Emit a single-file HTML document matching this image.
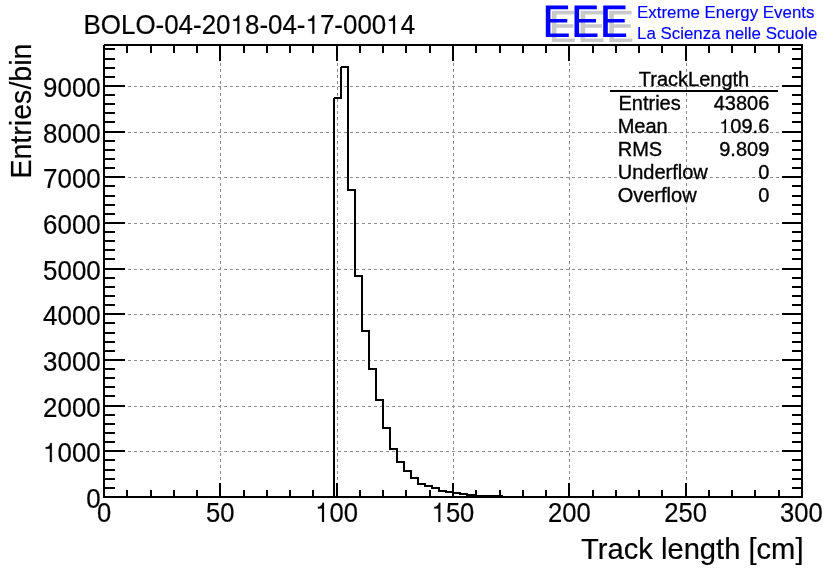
<!DOCTYPE html>
<html><head><meta charset="utf-8"><title>TrackLength</title>
<style>
html,body{margin:0;padding:0;background:#fff;}
body{width:836px;height:572px;overflow:hidden;}
svg{display:block;will-change:transform;}
text{font-family:"Liberation Sans",sans-serif;fill:#000;stroke:#000;}
.b{fill:#0000ff;stroke:#0000ff;stroke-width:0.15px;}
.h{fill:none;stroke:none;}
.one path{fill:#000;stroke:#000;stroke-width:0.2px;}
</style></head><body>
<svg width="836" height="572" viewBox="0 0 836 572">
<rect x="0" y="0" width="836" height="572" fill="#fff"/>
<g shape-rendering="crispEdges" stroke="#8c8c8c" stroke-width="1" stroke-dasharray="3 3" fill="none">
<line x1="104" y1="451.5" x2="801" y2="451.5"/><line x1="104" y1="406.5" x2="801" y2="406.5"/><line x1="104" y1="360.5" x2="801" y2="360.5"/><line x1="104" y1="314.5" x2="801" y2="314.5"/><line x1="104" y1="269.5" x2="801" y2="269.5"/><line x1="104" y1="223.5" x2="801" y2="223.5"/><line x1="104" y1="177.5" x2="801" y2="177.5"/><line x1="104" y1="132.5" x2="801" y2="132.5"/><line x1="104" y1="86.5" x2="801" y2="86.5"/><line x1="220.5" y1="45" x2="220.5" y2="496"/><line x1="337.5" y1="45" x2="337.5" y2="496"/><line x1="453.5" y1="45" x2="453.5" y2="496"/><line x1="569.5" y1="45" x2="569.5" y2="496"/><line x1="686.5" y1="45" x2="686.5" y2="496"/>
</g>
<path d="M334,497 V98 H341 V67 H348 V190 H355 V276 H362 V331 H369 V369 H376 V400 H383 V428 H390 V449 H397 V462 H404 V471 H411 V478 H418 V484 H425 V486 H432 V488 H439 V491 H446 V492 H453 V493 H460 V494 H467 V495 H474 V496 H481 V496 H488 V496 H495 V496 H502 V497 H802" fill="none" stroke="#000" stroke-width="2" stroke-linejoin="miter" shape-rendering="crispEdges"/>
<g shape-rendering="crispEdges" fill="#000">
<rect x="103" y="44" width="700" height="2"/><rect x="103" y="496" width="700" height="2"/><rect x="103" y="44" width="2" height="454"/><rect x="801" y="44" width="2" height="454"/>
<rect x="126" y="490" width="2" height="6"/><rect x="126" y="46" width="2" height="7"/><rect x="150" y="490" width="2" height="6"/><rect x="150" y="46" width="2" height="7"/><rect x="173" y="490" width="2" height="6"/><rect x="173" y="46" width="2" height="7"/><rect x="196" y="490" width="2" height="6"/><rect x="196" y="46" width="2" height="7"/><rect x="219" y="483" width="2" height="13"/><rect x="219" y="46" width="2" height="15"/><rect x="243" y="490" width="2" height="6"/><rect x="243" y="46" width="2" height="7"/><rect x="266" y="490" width="2" height="6"/><rect x="266" y="46" width="2" height="7"/><rect x="289" y="490" width="2" height="6"/><rect x="289" y="46" width="2" height="7"/><rect x="312" y="490" width="2" height="6"/><rect x="312" y="46" width="2" height="7"/><rect x="336" y="483" width="2" height="13"/><rect x="336" y="46" width="2" height="15"/><rect x="359" y="490" width="2" height="6"/><rect x="359" y="46" width="2" height="7"/><rect x="382" y="490" width="2" height="6"/><rect x="382" y="46" width="2" height="7"/><rect x="405" y="490" width="2" height="6"/><rect x="405" y="46" width="2" height="7"/><rect x="429" y="490" width="2" height="6"/><rect x="429" y="46" width="2" height="7"/><rect x="452" y="483" width="2" height="13"/><rect x="452" y="46" width="2" height="15"/><rect x="475" y="490" width="2" height="6"/><rect x="475" y="46" width="2" height="7"/><rect x="499" y="490" width="2" height="6"/><rect x="499" y="46" width="2" height="7"/><rect x="522" y="490" width="2" height="6"/><rect x="522" y="46" width="2" height="7"/><rect x="545" y="490" width="2" height="6"/><rect x="545" y="46" width="2" height="7"/><rect x="568" y="483" width="2" height="13"/><rect x="568" y="46" width="2" height="15"/><rect x="592" y="490" width="2" height="6"/><rect x="592" y="46" width="2" height="7"/><rect x="615" y="490" width="2" height="6"/><rect x="615" y="46" width="2" height="7"/><rect x="638" y="490" width="2" height="6"/><rect x="638" y="46" width="2" height="7"/><rect x="661" y="490" width="2" height="6"/><rect x="661" y="46" width="2" height="7"/><rect x="685" y="483" width="2" height="13"/><rect x="685" y="46" width="2" height="15"/><rect x="708" y="490" width="2" height="6"/><rect x="708" y="46" width="2" height="7"/><rect x="731" y="490" width="2" height="6"/><rect x="731" y="46" width="2" height="7"/><rect x="754" y="490" width="2" height="6"/><rect x="754" y="46" width="2" height="7"/><rect x="778" y="490" width="2" height="6"/><rect x="778" y="46" width="2" height="7"/>
<rect x="105" y="487" width="10" height="2"/><rect x="792" y="487" width="9" height="2"/><rect x="105" y="478" width="10" height="2"/><rect x="792" y="478" width="9" height="2"/><rect x="105" y="469" width="10" height="2"/><rect x="792" y="469" width="9" height="2"/><rect x="105" y="459" width="10" height="2"/><rect x="792" y="459" width="9" height="2"/><rect x="105" y="450" width="20" height="2"/><rect x="782" y="450" width="19" height="2"/><rect x="105" y="441" width="10" height="2"/><rect x="792" y="441" width="9" height="2"/><rect x="105" y="432" width="10" height="2"/><rect x="792" y="432" width="9" height="2"/><rect x="105" y="423" width="10" height="2"/><rect x="792" y="423" width="9" height="2"/><rect x="105" y="414" width="10" height="2"/><rect x="792" y="414" width="9" height="2"/><rect x="105" y="405" width="20" height="2"/><rect x="782" y="405" width="19" height="2"/><rect x="105" y="395" width="10" height="2"/><rect x="792" y="395" width="9" height="2"/><rect x="105" y="386" width="10" height="2"/><rect x="792" y="386" width="9" height="2"/><rect x="105" y="377" width="10" height="2"/><rect x="792" y="377" width="9" height="2"/><rect x="105" y="368" width="10" height="2"/><rect x="792" y="368" width="9" height="2"/><rect x="105" y="359" width="20" height="2"/><rect x="782" y="359" width="19" height="2"/><rect x="105" y="350" width="10" height="2"/><rect x="792" y="350" width="9" height="2"/><rect x="105" y="341" width="10" height="2"/><rect x="792" y="341" width="9" height="2"/><rect x="105" y="332" width="10" height="2"/><rect x="792" y="332" width="9" height="2"/><rect x="105" y="322" width="10" height="2"/><rect x="792" y="322" width="9" height="2"/><rect x="105" y="313" width="20" height="2"/><rect x="782" y="313" width="19" height="2"/><rect x="105" y="304" width="10" height="2"/><rect x="792" y="304" width="9" height="2"/><rect x="105" y="295" width="10" height="2"/><rect x="792" y="295" width="9" height="2"/><rect x="105" y="286" width="10" height="2"/><rect x="792" y="286" width="9" height="2"/><rect x="105" y="277" width="10" height="2"/><rect x="792" y="277" width="9" height="2"/><rect x="105" y="268" width="20" height="2"/><rect x="782" y="268" width="19" height="2"/><rect x="105" y="258" width="10" height="2"/><rect x="792" y="258" width="9" height="2"/><rect x="105" y="249" width="10" height="2"/><rect x="792" y="249" width="9" height="2"/><rect x="105" y="240" width="10" height="2"/><rect x="792" y="240" width="9" height="2"/><rect x="105" y="231" width="10" height="2"/><rect x="792" y="231" width="9" height="2"/><rect x="105" y="222" width="20" height="2"/><rect x="782" y="222" width="19" height="2"/><rect x="105" y="213" width="10" height="2"/><rect x="792" y="213" width="9" height="2"/><rect x="105" y="204" width="10" height="2"/><rect x="792" y="204" width="9" height="2"/><rect x="105" y="195" width="10" height="2"/><rect x="792" y="195" width="9" height="2"/><rect x="105" y="185" width="10" height="2"/><rect x="792" y="185" width="9" height="2"/><rect x="105" y="176" width="20" height="2"/><rect x="782" y="176" width="19" height="2"/><rect x="105" y="167" width="10" height="2"/><rect x="792" y="167" width="9" height="2"/><rect x="105" y="158" width="10" height="2"/><rect x="792" y="158" width="9" height="2"/><rect x="105" y="149" width="10" height="2"/><rect x="792" y="149" width="9" height="2"/><rect x="105" y="140" width="10" height="2"/><rect x="792" y="140" width="9" height="2"/><rect x="105" y="131" width="20" height="2"/><rect x="782" y="131" width="19" height="2"/><rect x="105" y="121" width="10" height="2"/><rect x="792" y="121" width="9" height="2"/><rect x="105" y="112" width="10" height="2"/><rect x="792" y="112" width="9" height="2"/><rect x="105" y="103" width="10" height="2"/><rect x="792" y="103" width="9" height="2"/><rect x="105" y="94" width="10" height="2"/><rect x="792" y="94" width="9" height="2"/><rect x="105" y="85" width="20" height="2"/><rect x="782" y="85" width="19" height="2"/><rect x="105" y="76" width="10" height="2"/><rect x="792" y="76" width="9" height="2"/><rect x="105" y="67" width="10" height="2"/><rect x="792" y="67" width="9" height="2"/><rect x="105" y="58" width="10" height="2"/><rect x="792" y="58" width="9" height="2"/><rect x="105" y="48" width="10" height="2"/><rect x="792" y="48" width="9" height="2"/>
</g>
<g shape-rendering="crispEdges" fill="#fff"><rect x="103" y="44" width="1" height="1"/><rect x="340" y="66" width="1" height="1"/><rect x="333" y="97" width="1" height="1"/></g>
<text id="t1" transform="translate(100.70,508.00) scale(1,1.07)" font-size="25.9" stroke-width="0.2" text-anchor="end">0</text><text id="t2" transform="translate(100.70,462.00) scale(1,1.07)" font-size="25.9" stroke-width="0.2" text-anchor="end"><tspan class="h">1</tspan>000</text><g class="one" transform="translate(100.70,462.00) scale(1,1.07)"><path d="M-48.87,0.00 L-48.87,-17.72 L-50.21,-17.72 Q-50.94,-14.63 -53.27,-14.06 L-54.98,-14.06 L-54.98,-12.43 L-50.84,-12.43 L-50.84,0.00 Z"/></g><text id="t3" transform="translate(100.70,417.00) scale(1,1.07)" font-size="25.9" stroke-width="0.2" text-anchor="end">2000</text><text id="t4" transform="translate(100.70,371.00) scale(1,1.07)" font-size="25.9" stroke-width="0.2" text-anchor="end">3000</text><text id="t5" transform="translate(100.70,325.00) scale(1,1.07)" font-size="25.9" stroke-width="0.2" text-anchor="end">4000</text><text id="t6" transform="translate(100.70,280.00) scale(1,1.07)" font-size="25.9" stroke-width="0.2" text-anchor="end">5000</text><text id="t7" transform="translate(100.70,234.00) scale(1,1.07)" font-size="25.9" stroke-width="0.2" text-anchor="end">6000</text><text id="t8" transform="translate(100.70,188.00) scale(1,1.07)" font-size="25.9" stroke-width="0.2" text-anchor="end">7000</text><text id="t9" transform="translate(100.70,143.00) scale(1,1.07)" font-size="25.9" stroke-width="0.2" text-anchor="end">8000</text><text id="t10" transform="translate(100.70,97.00) scale(1,1.07)" font-size="25.9" stroke-width="0.2" text-anchor="end">9000</text>
<text id="t11" transform="translate(104.00,522.00) scale(1,1.095)" font-size="25.6" stroke-width="0.2" text-anchor="middle">0</text><text id="t12" transform="translate(220.33,522.00) scale(1,1.095)" font-size="25.6" stroke-width="0.2" text-anchor="middle">50</text><text id="t13" transform="translate(336.67,522.00) scale(1,1.095)" font-size="25.6" stroke-width="0.2" text-anchor="middle"><tspan class="h">1</tspan>00</text><g class="one" transform="translate(336.67,522.00) scale(1,1.095)"><path d="M-12.69,0.00 L-12.69,-17.51 L-14.02,-17.51 Q-14.74,-14.46 -17.05,-13.90 L-18.73,-13.90 L-18.73,-12.29 L-14.64,-12.29 L-14.64,0.00 Z"/></g><text id="t14" transform="translate(453.00,522.00) scale(1,1.095)" font-size="25.6" stroke-width="0.2" text-anchor="middle"><tspan class="h">1</tspan>50</text><g class="one" transform="translate(453.00,522.00) scale(1,1.095)"><path d="M-12.69,0.00 L-12.69,-17.51 L-14.02,-17.51 Q-14.74,-14.46 -17.05,-13.90 L-18.73,-13.90 L-18.73,-12.29 L-14.64,-12.29 L-14.64,0.00 Z"/></g><text id="t15" transform="translate(569.33,522.00) scale(1,1.095)" font-size="25.6" stroke-width="0.2" text-anchor="middle">200</text><text id="t16" transform="translate(685.67,522.00) scale(1,1.095)" font-size="25.6" stroke-width="0.2" text-anchor="middle">250</text><text id="t17" transform="translate(801.40,522.00) scale(1,1.095)" font-size="25.6" stroke-width="0.2" text-anchor="middle">300</text>
<text id="t18" transform="translate(83.50,33.80) scale(1,1.035)" font-size="25.95" stroke-width="0.2">BOLO-04-20<tspan class="h">1</tspan>8-04-<tspan class="h">1</tspan>7-000<tspan class="h">1</tspan>4</text><g class="one" transform="translate(83.50,33.80) scale(1,1.035)"><path d="M155.80,0.00 L155.80,-17.75 L154.45,-17.75 Q153.72,-14.66 151.39,-14.09 L149.68,-14.09 L149.68,-12.46 L153.83,-12.46 L153.83,0.00 Z"/><path d="M230.77,0.00 L230.77,-17.75 L229.43,-17.75 Q228.70,-14.66 226.36,-14.09 L224.65,-14.09 L224.65,-12.46 L228.80,-12.46 L228.80,0.00 Z"/><path d="M311.54,0.00 L311.54,-17.75 L310.19,-17.75 Q309.46,-14.66 307.13,-14.09 L305.41,-14.09 L305.41,-12.46 L309.56,-12.46 L309.56,0.00 Z"/></g>
<text id="t19" transform="translate(31.30,43.50) rotate(-90)" font-size="28.6" stroke-width="0.2" text-anchor="end">Entries/bin</text>
<text id="t20" x="803.50" y="558.60" font-size="29.15" stroke-width="0.2" text-anchor="end">Track length [cm]</text>
<text id="t21" x="694.00" y="85.50" font-size="20" text-anchor="middle" stroke-width="0.35">TrackLength</text>
<rect x="610" y="90" width="168" height="2" fill="#000" shape-rendering="crispEdges"/>
<text id="t22" x="618.50" y="110.00" font-size="20" stroke-width="0.35">Entries</text><text id="t23" x="769.30" y="110.00" font-size="20" text-anchor="end" stroke-width="0.35">43806</text>
<text id="t24" x="617.70" y="133.00" font-size="20" stroke-width="0.35">Mean</text><text id="t25" x="769.30" y="133.00" font-size="20" text-anchor="end" stroke-width="0.35"><tspan class="h">1</tspan>09.6</text><g class="one"><path d="M726.00,133.00 L726.00,119.32 L724.96,119.32 Q724.40,121.70 722.60,122.14 L721.28,122.14 L721.28,123.40 L724.48,123.40 L724.48,133.00 Z"/></g>
<text id="t26" x="617.70" y="156.00" font-size="20" stroke-width="0.35">RMS</text><text id="t27" x="769.30" y="156.00" font-size="20" text-anchor="end" stroke-width="0.35">9.809</text>
<text id="t28" x="617.70" y="179.00" font-size="20" stroke-width="0.35">Underflow</text><text id="t29" x="769.30" y="179.00" font-size="20" text-anchor="end" stroke-width="0.35">0</text>
<text id="t30" x="617.70" y="202.00" font-size="20" stroke-width="0.35">Overflow</text><text id="t31" x="769.30" y="202.00" font-size="20" text-anchor="end" stroke-width="0.35">0</text>
<path transform="translate(551.90,10.70)" d="M0,0 H22.3 V3.8 H4.6 V13.5 H21.5 V17.1 H4.6 V27.9 H23 V31.4 H0 Z" fill="#c9c9c9"/><path transform="translate(580.60,10.70)" d="M0,0 H22.3 V3.8 H4.6 V13.5 H21.5 V17.1 H4.6 V27.9 H23 V31.4 H0 Z" fill="#c9c9c9"/><path transform="translate(609.30,10.70)" d="M0,0 H22.3 V3.8 H4.6 V13.5 H21.5 V17.1 H4.6 V27.9 H23 V31.4 H0 Z" fill="#c9c9c9"/><path transform="translate(545.80,5.50)" d="M0,0 H22.3 V3.8 H4.6 V13.5 H21.5 V17.1 H4.6 V27.9 H23 V31.4 H0 Z" fill="#0000ff"/><path transform="translate(574.50,5.50)" d="M0,0 H22.3 V3.8 H4.6 V13.5 H21.5 V17.1 H4.6 V27.9 H23 V31.4 H0 Z" fill="#0000ff"/><path transform="translate(603.20,5.50)" d="M0,0 H22.3 V3.8 H4.6 V13.5 H21.5 V17.1 H4.6 V27.9 H23 V31.4 H0 Z" fill="#0000ff"/>
<text id="t32" x="637.00" y="17.70" font-size="16.9" class="b">Extreme Energy Events</text>
<text id="t33" x="637.00" y="38.70" font-size="16.9" class="b">La Scienza nelle Scuole</text>
</svg>
</body></html>
